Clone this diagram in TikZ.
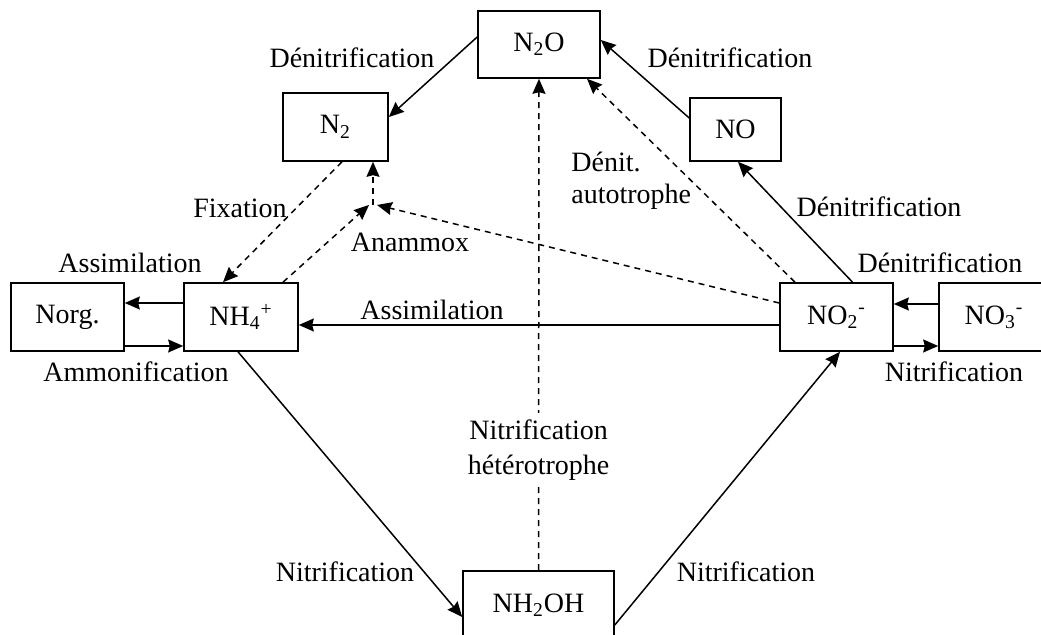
\documentclass[tikz,border=0pt]{standalone}
\usepackage{fontspec}
\setmainfont{Liberation Serif}
\usepackage{xcolor}
\usetikzlibrary{positioning,arrows.meta,calc}
\tikzset{
  node-box/.style={draw=black,line width=0.8pt,minimum height=34pt,
    minimum width=56.5pt,align=center,inner sep=1pt},
  node-label/.style={inner sep=1pt,align=center},
  arrow/.style={-{Stealth[length=7.5pt,width=6.5pt,inset=0.8pt]},line width=0.75pt},
  arrow-dashed/.style={arrow,dash pattern=on 3pt off 2.5pt},
}

\begin{document}
\begin{tikzpicture}[x=0.5pt,y=-0.5pt,font=\fontsize{14}{16}\selectfont]
  \useasboundingbox (0,0) rectangle (1041,635);
  % boxes
  \node[node-box,minimum width=61pt,minimum height=33.5pt] (n2o) at (539,44.5) {N\textsubscript{2}O};
  \node[node-box,minimum width=52.5pt] (n2) at (335.5,127) {N\textsubscript{2}};
  \node[node-box,minimum width=45.5pt,minimum height=31.5pt] (no) at (735.5,129.5) {NO};
  \node[node-box] (norg) at (67.5,317) {Norg.};
  \node[node-box,minimum width=57pt] (nh4) at (241,317) {NH\textsubscript{4}\textsuperscript{+}};
  \node[node-box] (no2) at (836.5,317) {NO\textsubscript{2}\textsuperscript{-}};
  \node[node-box,minimum width=55pt] (no3) at (994,317) {NO\textsubscript{3}\textsuperscript{-}};
  \node[node-box,minimum width=75.5pt] (nh2oh) at (538.5,605) {NH\textsubscript{2}OH};
  \coordinate (anx) at (373,205);

  % labels
  \node[node-label] (l-denit-n2) at (352,58) {Dénitrification};
  \node[node-label] (l-denit-no) at (730,58) {Dénitrification};
  \node[node-label] (l-denit-no2) at (879,207) {Dénitrification};
  \node[node-label] (l-denit-no3) at (940,263) {Dénitrification};
  \node[node-label] (l-nitr-no3) at (954,372) {Nitrification};
  \node[node-label] (l-assim-org) at (130,263) {Assimilation};
  \node[node-label] (l-ammon) at (136,372) {Ammonification};
  \node[node-label] (l-fix) at (240,208) {Fixation};
  \node[node-label] (l-anam) at (410,242) {Anammox};
  \node[node-label] (l-assim) at (432,310) {Assimilation};
  \node[node-label] (l-nitr-a) at (345,572) {Nitrification};
  \node[node-label] (l-nitr-b) at (746,572) {Nitrification};
  \node[node-label,anchor=west,align=left,font=\fontsize{14}{16}\selectfont]
    (l-auto) at (569,181) {Dénit.\\autotrophe};

  % connectors
  \draw[arrow-dashed] (nh2oh.north) -- (n2o.south)
    node[node-label,fill=white,pos=0.245,font=\fontsize{14}{17.5}\selectfont,inner sep=3pt] (l-hetero) {Nitrification\\hétérotrophe};
  \draw[arrow] ([yshift=3.75pt]n2o.west) -- ([yshift=5pt]n2.east);
  \draw[arrow] ([yshift=5.75pt]no.west) -- ([yshift=2.25pt]n2o.east);
  \draw[arrow] ([xshift=8pt]no2.north) -- ([xshift=1.25pt]no.south);
  \draw[arrow-dashed] ([xshift=-20.75pt]no2.north) -- ([xshift=24pt]n2o.south);
  \draw[arrow] ([yshift=-4pt]no2.west) -- ([yshift=-4pt]nh4.east);
  \draw[arrow-dashed] ([yshift=7pt]no2.west) -- ([xshift=2pt]anx);
  \draw[arrow-dashed] ([xshift=21pt]nh4.north) -- ([xshift=-2pt]anx);
  \draw[arrow-dashed] (anx) -- ([xshift=18.75pt]n2.south);
  \draw[arrow-dashed] ([xshift=3.25pt]n2.south) -- ([xshift=-9pt]nh4.north);
  \draw[arrow] ([yshift=7pt]nh4.west) -- ([yshift=7pt]norg.east);
  \draw[arrow] ([yshift=-14.5pt]norg.east) -- ([yshift=-14.5pt]nh4.west);
  \draw[arrow] ([yshift=6.5pt]no3.west) -- ([yshift=6.5pt]no2.east);
  \draw[arrow] ([yshift=-14.5pt]no2.east) -- ([yshift=-14.5pt]no3.west);
  \draw[arrow] ([xshift=-1.5pt]nh4.south) -- ([yshift=-6pt]nh2oh.west);
  \draw[arrow] ([yshift=-10pt]nh2oh.east) -- ([xshift=1.75pt]no2.south);
\end{tikzpicture}
\end{document}
